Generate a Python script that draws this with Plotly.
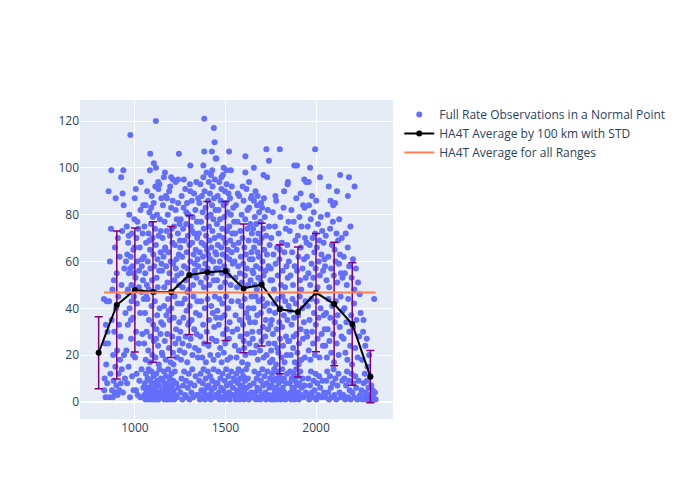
import plotly.graph_objects as go

# Full-rate observations (range km, HA4T value), grouped by 100 km bin
obs_800 = [(829,44),(831,5),(833,10),(836,25),(838,2),(840,33),(842,16),(845,43),(847,8),(849,30)]
obs_900 = [(852,25),(855,90),(858,43),(860,2),(862,60),(865,12),(868,74),(870,99),(872,35),(874,5),(876,48),(878,2),(880,20),(882,9),(884,52),(886,30),(888,4),(890,66),(892,15),(894,87),(896,40),(898,7),(900,55),(902,22),(904,3),(906,70),(908,45),(910,12),(912,33),(914,5),(916,62),(918,18),(920,28),(922,8),(924,96),(926,50),(928,14),(930,73),(932,89),(934,4),(936,99),(938,84),(940,20),(942,57),(945,10),(948,38)]
obs_1000 = [(951,60),(953,22),(955,75),(957,8),(959,47),(961,33),(963,68),(965,15),(967,55),(969,80),(971,40),(973,2),(975,114),(977,62),(979,27),(981,50),(983,72),(985,11),(987,58),(989,36),(991,65),(993,5),(995,45),(997,78),(999,87),(1001,19),(1003,53),(1005,91),(1007,30),(1009,70),(1011,42),(1013,60),(1015,3),(1017,48),(1019,74),(1021,25),(1023,56),(1025,9),(1027,66),(1029,38),(1031,82),(1033,94),(1035,47),(1037,14),(1039,61),(1041,29),(1043,72),(1045,52),(1047,6),(1049,44),(958,63),(966,71),(974,57),(982,43),(990,20),(998,66),(1006,5),(1014,77),(1022,49),(1030,2),(1038,58),(1046,84),(962,48),(978,35),(994,55),(1010,12)]
obs_1100 = [(1052,3),(1055,8),(1058,1),(1061,12),(1064,5),(1067,2),(1070,10),(1073,6),(1076,14),(1079,1),(1082,4),(1085,9),(1088,2),(1091,13),(1094,7),(1097,1),(1100,5),(1103,11),(1106,3),(1109,8),(1112,1),(1115,6),(1118,12),(1121,2),(1124,9),(1127,4),(1130,1),(1133,7),(1136,14),(1140,3),(1144,10),(1148,5),
            (1051,25),(1056,38),(1060,18),(1065,30),(1069,44),(1074,22),(1078,35),(1083,17),(1087,28),(1092,41),(1096,20),(1101,33),(1105,26),(1110,43),(1114,19),(1119,31),(1123,37),(1128,24),(1132,16),(1137,40),(1141,29),(1145,34),(1149,21),(1063,45),(1117,27),
            (1050,62),(1053,75),(1057,55),(1059,84),(1062,68),(1066,50),(1068,90),(1071,60),(1075,72),(1077,48),(1080,81),(1084,65),(1086,57),(1089,76),(1093,88),(1095,52),(1098,70),(1102,63),(1104,85),(1107,58),(1111,74),(1113,92),(1116,67),(1120,53),(1122,80),(1125,61),(1129,94),(1131,71),(1134,56),(1138,78),(1142,64),(1146,87),(1147,59),(1126,49),(1108,47),(1081,69),(1099,79),(1135,93),(1143,73),(1090,83),
            (1085,106),(1105,102),(1083,99),(1116,100),(1116,120),(1130,91)]
obs_1200 = [(1151,2),(1154,9),(1157,4),(1160,13),(1163,1),(1166,7),(1169,3),(1172,11),(1175,5),(1178,1),(1181,8),(1184,14),(1187,2),(1190,6),(1193,10),(1196,1),(1199,4),(1202,12),(1205,7),(1208,2),(1211,9),(1214,5),(1217,1),(1220,13),(1224,3),(1228,8),(1233,2),(1240,6),
            (1152,20),(1156,33),(1161,41),(1165,26),(1170,18),(1174,37),(1179,29),(1183,44),(1188,23),(1192,35),(1197,17),(1201,40),(1206,28),(1210,21),(1215,36),(1219,45),(1223,25),(1227,31),(1232,19),(1236,42),(1241,27),(1245,34),(1248,22),(1213,16),(1186,39),
            (1150,56),(1153,70),(1155,84),(1158,62),(1162,49),(1164,77),(1167,66),(1171,88),(1173,58),(1176,73),(1180,51),(1182,80),(1185,64),(1189,90),(1191,55),(1194,71),(1198,60),(1200,83),(1203,47),(1207,68),(1209,86),(1212,59),(1216,75),(1218,52),(1221,67),(1225,82),(1229,61),(1231,78),(1234,54),(1237,72),(1239,85),(1242,63),(1244,50),(1247,76),(1249,69),(1195,92),(1177,87),(1226,57),(1204,74),(1168,65),
            (1166,98),(1160,96),(1210,95),(1225,94),(1243,106),(1200,96),(1238,95)]
obs_1300 = [(1252,4),(1257,10),(1262,1),(1267,7),(1272,13),(1277,3),(1282,9),(1287,2),(1292,6),(1297,12),(1302,1),(1307,8),(1312,4),(1317,14),(1322,2),(1328,7),(1335,11),(1342,3),
            (1251,30),(1255,18),(1259,42),(1263,25),(1268,36),(1273,21),(1276,44),(1280,28),(1285,39),(1289,17),(1294,33),(1298,24),(1303,41),(1308,27),(1313,35),(1318,20),(1323,45),(1327,31),(1332,23),(1337,38),(1341,29),(1345,43),(1348,19),(1300,34),
            (1250,66),(1253,78),(1256,55),(1258,88),(1261,62),(1264,49),(1266,74),(1269,83),(1271,58),(1274,69),(1278,91),(1281,52),(1283,76),(1286,64),(1288,85),(1291,57),(1293,71),(1296,80),(1299,48),(1301,67),(1304,93),(1306,60),(1309,75),(1311,54),(1314,86),(1316,68),(1319,79),(1321,50),(1324,63),(1326,89),(1329,72),(1331,56),(1334,82),(1336,65),(1339,94),(1340,53),(1343,77),(1346,61),(1349,87),(1270,95),(1290,47),(1315,73),(1330,59),(1284,81),(1344,70),
            (1306,101),(1306,90)]
obs_1400 = [(1351,3),(1355,9),(1359,1),(1363,12),(1367,5),(1371,2),(1375,8),(1379,14),(1383,4),(1387,1),(1391,10),(1395,6),(1399,2),(1403,13),(1407,7),(1411,3),(1415,11),(1419,1),(1423,5),(1427,9),(1431,2),(1435,14),(1439,6),(1443,3),(1447,8),
            (1352,22),(1357,37),(1362,28),(1366,43),(1372,19),(1377,33),(1382,25),(1386,40),(1392,17),(1397,30),(1401,44),(1406,24),(1410,35),(1416,20),(1421,41),(1425,27),(1430,38),(1434,18),(1438,32),(1442,45),(1446,26),(1449,36),
            (1350,58),(1353,72),(1356,85),(1358,64),(1361,93),(1364,51),(1365,77),(1368,68),(1370,88),(1373,56),(1374,81),(1376,62),(1378,96),(1380,74),(1381,49),(1384,67),(1385,90),(1388,59),(1390,83),(1393,71),(1394,53),(1396,98),(1398,65),(1400,79),(1402,57),(1404,86),(1405,63),(1408,94),(1409,75),(1412,50),(1413,69),(1414,89),(1417,61),(1418,80),(1420,97),(1422,66),(1424,55),(1426,84),(1428,73),(1429,92),(1432,60),(1433,78),(1436,52),(1437,87),(1440,70),(1441,95),(1444,64),(1445,82),(1448,57),(1427,99),
            (1383,121),(1436,117),(1440,111),(1383,107),(1425,107),(1378,101),(1446,104)]
obs_1500 = [(1452,2),(1456,8),(1460,13),(1464,4),(1468,1),(1472,10),(1476,6),(1480,2),(1484,12),(1488,5),(1492,1),(1496,9),(1500,3),(1504,14),(1508,7),(1512,2),(1516,11),(1520,4),(1524,1),(1528,8),(1532,13),(1536,3),(1541,6),(1546,10),
            (1451,26),(1455,39),(1459,20),(1463,33),(1467,44),(1471,23),(1475,36),(1479,17),(1483,42),(1487,29),(1491,21),(1495,37),(1499,25),(1503,45),(1507,31),(1511,18),(1515,40),(1519,27),(1523,34),(1527,19),(1533,43),(1539,30),
            (1450,63),(1453,76),(1454,52),(1457,88),(1458,67),(1461,57),(1462,82),(1465,71),(1466,94),(1469,60),(1470,78),(1473,49),(1474,86),(1477,66),(1478,91),(1481,55),(1482,74),(1485,63),(1486,97),(1489,70),(1490,84),(1493,58),(1494,79),(1497,90),(1498,51),(1501,68),(1502,85),(1505,62),(1506,93),(1509,73),(1510,56),(1513,81),(1514,65),(1517,89),(1518,54),(1521,75),(1522,61),(1525,87),(1526,69),(1529,50),(1530,80),(1534,64),(1535,92),(1538,72),(1540,59),(1543,83),(1545,67),(1548,77),
            (1490,100),(1520,107),(1505,99),(1530,99),(1450,104),(1478,96)]
obs_1600 = [(1551,3),(1554,9),(1557,1),(1560,12),(1563,5),(1566,2),(1569,8),(1572,14),(1575,4),(1578,1),(1581,10),(1584,6),(1587,2),(1590,13),(1593,7),(1596,3),(1599,11),(1602,1),(1605,5),(1608,9),(1611,2),(1614,14),(1617,6),(1620,3),(1624,10),(1629,1),(1635,7),(1642,4),
            (1552,24),(1556,37),(1561,19),(1565,31),(1570,43),(1574,22),(1579,35),(1583,28),(1588,41),(1592,17),(1597,33),(1601,26),(1606,44),(1610,20),(1615,38),(1619,29),(1623,16),(1627,40),(1632,25),(1636,34),(1640,21),(1644,45),(1648,30),(1626,36),(1603,23),
            (1550,60),(1553,72),(1555,53),(1558,84),(1562,65),(1564,49),(1567,77),(1571,58),(1573,68),(1576,88),(1580,55),(1582,73),(1585,62),(1589,80),(1591,51),(1594,70),(1598,59),(1600,86),(1604,66),(1607,54),(1609,78),(1612,63),(1616,91),(1618,57),(1621,74),(1625,50),(1628,69),(1631,83),(1634,61),(1637,76),(1639,52),(1641,87),(1643,64),(1646,72),(1649,56),(1622,82),(1595,92),(1568,89),
            (1610,105),(1610,98),(1630,94),(1645,88)]
obs_1700 = [(1652,2),(1656,8),(1660,13),(1664,4),(1668,1),(1672,10),(1676,6),(1680,2),(1684,12),(1688,5),(1692,1),(1696,9),(1700,3),(1704,14),(1708,7),(1712,2),(1716,11),(1720,4),(1724,1),(1728,8),(1732,13),(1737,3),(1742,6),(1747,10),
            (1651,27),(1655,40),(1659,21),(1663,34),(1667,45),(1671,24),(1675,37),(1679,18),(1683,43),(1687,30),(1691,22),(1695,38),(1699,26),(1703,44),(1707,32),(1711,19),(1715,41),(1719,28),(1723,35),(1727,20),(1731,42),(1735,31),(1739,25),(1743,39),(1746,17),(1749,33),
            (1650,61),(1653,74),(1654,55),(1657,86),(1658,66),(1661,50),(1662,79),(1665,69),(1666,90),(1669,58),(1670,76),(1673,48),(1674,84),(1677,64),(1678,88),(1681,53),(1682,72),(1685,62),(1686,81),(1689,68),(1693,57),(1694,77),(1697,85),(1698,51),(1701,70),(1702,83),(1705,60),(1709,74),(1710,54),(1713,87),(1714,65),(1717,79),(1721,56),(1725,71),(1729,63),(1733,82),(1738,58),(1741,75),(1744,67),(1748,52),
            (1657,100),(1726,108),(1740,103),(1710,97),(1730,96)]
obs_1800 = [(1751,1),(1754,7),(1757,12),(1760,3),(1763,9),(1766,1),(1769,14),(1772,5),(1775,2),(1778,10),(1781,6),(1784,1),(1787,13),(1790,4),(1793,8),(1796,2),(1799,11),(1802,5),(1805,1),(1808,9),(1811,3),(1814,14),(1817,6),(1820,2),(1823,10),(1827,4),(1831,1),(1835,8),(1840,12),(1845,3),
            (1752,22),(1756,35),(1759,18),(1762,29),(1767,42),(1771,25),(1774,38),(1779,16),(1783,31),(1788,44),(1792,21),(1797,34),(1801,27),(1804,40),(1809,19),(1813,32),(1818,24),(1822,37),(1826,17),(1830,43),(1834,28),(1838,20),(1842,35),(1846,26),(1849,41),(1815,45),(1786,23),
            (1750,57),(1753,70),(1758,52),(1761,81),(1765,63),(1768,48),(1773,75),(1777,59),(1780,86),(1785,66),(1789,54),(1794,72),(1798,61),(1803,79),(1807,50),(1812,68),(1816,56),(1821,83),(1825,64),(1829,49),(1833,74),(1837,58),(1841,67),(1844,53),(1848,77),(1824,90),(1776,88),(1800,65),
            (1800,108),(1845,94),(1843,93)]
obs_1900 = [(1851,2),(1854,8),(1857,13),(1860,4),(1863,1),(1866,10),(1869,6),(1872,2),(1875,12),(1878,5),(1881,1),(1884,9),(1887,3),(1890,14),(1893,7),(1896,2),(1899,11),(1902,4),(1905,1),(1909,8),(1913,13),(1917,3),(1921,6),(1926,10),(1931,2),(1937,7),(1944,4),
            (1852,26),(1856,39),(1861,20),(1865,33),(1870,44),(1874,23),(1879,36),(1883,17),(1888,42),(1892,29),(1897,21),(1901,37),(1906,25),(1910,45),(1915,31),(1919,18),(1924,40),(1928,27),(1933,34),(1938,19),(1942,43),(1947,30),(1904,16),(1876,28),
            (1850,60),(1855,73),(1859,54),(1864,82),(1868,64),(1873,50),(1877,77),(1882,58),(1886,69),(1891,87),(1895,56),(1900,71),(1903,62),(1908,79),(1912,52),(1916,66),(1920,75),(1925,57),(1929,84),(1934,61),(1939,70),(1943,53),(1948,68),(1918,48),
            (1880,101),(1895,101),(1935,95),(1945,94),(1915,89),(1937,83)]
obs_2000 = [(1952,3),(1957,10),(1962,1),(1967,7),(1972,13),(1977,4),(1982,2),(1987,9),(1992,5),(1997,12),(2002,1),(2007,8),(2012,3),(2017,11),(2023,6),(2029,2),(2036,9),(2044,4),
            (1951,28),(1955,41),(1960,22),(1964,35),(1969,18),(1974,44),(1979,30),(1984,25),(1989,38),(1994,20),(1999,33),(2004,43),(2009,27),(2014,36),(2019,19),(2025,40),(2031,29),(2038,24),(2043,37),(2048,31),
            (1950,62),(1954,75),(1958,55),(1961,84),(1965,67),(1968,50),(1971,78),(1975,59),(1978,88),(1981,70),(1985,53),(1988,81),(1991,64),(1995,72),(1998,57),(2001,86),(2005,66),(2008,49),(2011,76),(2015,60),(2018,69),(2021,54),(2026,79),(2030,63),(2034,73),(2039,56),(2042,68),(2047,61),
            (1995,108),(1967,100),(1960,94),(2022,96)]
obs_2100 = [(2052,2),(2057,9),(2062,13),(2067,4),(2072,1),(2077,11),(2082,6),(2087,2),(2092,8),(2097,14),(2102,3),(2107,10),(2112,1),(2118,7),(2124,12),(2130,4),(2137,2),(2145,9),
            (2051,24),(2055,38),(2060,19),(2065,31),(2069,44),(2074,26),(2079,36),(2084,21),(2089,41),(2094,29),(2099,17),(2104,34),(2109,43),(2114,25),(2119,37),(2125,20),(2131,32),(2136,45),(2141,28),(2147,39),
            (2050,58),(2054,71),(2058,52),(2063,80),(2068,62),(2073,49),(2078,74),(2083,57),(2088,67),(2093,77),(2098,54),(2103,65),(2108,60),(2113,72),(2117,51),(2122,69),(2127,59),(2132,63),(2138,55),(2142,70),(2146,53),(2128,78),
            (2133,97),(2070,92),(2116,90),(2080,86),(2095,84),(2105,85)]
obs_2200 = [(2151,3),(2156,10),(2161,1),(2166,7),(2171,13),(2176,2),(2181,9),(2186,5),(2191,1),(2196,12),(2201,4),(2206,8),(2211,2),(2216,11),(2222,6),(2228,1),(2235,9),(2243,3),
            (2152,27),(2157,40),(2162,21),(2168,34),(2173,18),(2178,44),(2184,30),(2189,24),(2194,37),(2199,16),(2205,32),(2210,42),(2217,23),(2223,35),(2230,19),(2238,28),(2246,38),
            (2153,62),(2159,55),(2164,72),(2170,50),(2175,66),(2183,58),(2190,75),(2197,53),(2204,61),(2212,48),(2220,57),(2232,51),(2241,46),
            (2182,96),(2213,92),(2176,88)]
obs_2300 = [(2251,5),(2254,18),(2257,1),(2260,30),(2263,8),(2266,2),(2269,12),(2272,24),(2275,4),(2278,1),(2281,9),(2284,15),(2287,2),(2290,6),(2293,20),(2296,1),(2299,11),(2302,3),(2305,7),(2309,1),(2313,5),(2317,2),(2321,44),(2325,4),(2329,1),(2262,35),(2280,27)]

# Bin averages by 100 km with standard deviation
avg_x = [800, 900, 1000, 1100, 1200, 1300, 1400, 1500, 1600, 1700, 1800, 1900, 2000, 2100, 2200, 2300]
avg_y = [21.0, 41.4, 47.8, 47.0, 47.0, 54.2, 55.4, 55.9, 48.5, 50.1, 39.6, 38.4, 46.7, 41.8, 33.3, 10.8]
avg_std = [15.4, 31.6, 26.5, 30.0, 28.0, 25.5, 30.2, 29.7, 27.5, 26.2, 27.6, 27.8, 25.3, 26.4, 26.2, 11.2]

overall_avg = 46.7

all_obs = (obs_800 + obs_900 + obs_1000 + obs_1100 + obs_1200 + obs_1300 + obs_1400 + obs_1500
           + obs_1600 + obs_1700 + obs_1800 + obs_1900 + obs_2000 + obs_2100 + obs_2200 + obs_2300)
obs_x = [p[0] for p in all_obs]
obs_y = [p[1] for p in all_obs]

fig = go.Figure()
fig.add_trace(go.Scatter(
    x=obs_x, y=obs_y, mode="markers",
    name="Full Rate Observations in a Normal Point",
    marker=dict(color="#636efa", size=6),
))
fig.add_trace(go.Scatter(
    x=avg_x, y=avg_y, mode="lines+markers",
    name="HA4T Average by 100 km with STD",
    line=dict(color="black", width=2),
    marker=dict(color="black", size=6),
    error_y=dict(type="data", array=avg_std, visible=True, color="purple", thickness=1.5, width=4),
))
fig.add_trace(go.Scatter(
    x=[min(obs_x), max(obs_x)], y=[overall_avg, overall_avg], mode="lines",
    name="HA4T Average for all Ranges",
    line=dict(color="#ff7f50", width=2),
))
fig.update_layout(
    width=700, height=500,
    margin=dict(l=80, r=307, t=100, b=81),
    legend=dict(x=1.02, y=1, xanchor="left", yanchor="top"),
    xaxis=dict(range=[697, 2425]),
    yaxis=dict(range=[-7.3, 129]),
)
fig.write_html("out.html", config={"displayModeBar": False},
               post_script="document.body.style.margin='0';")
